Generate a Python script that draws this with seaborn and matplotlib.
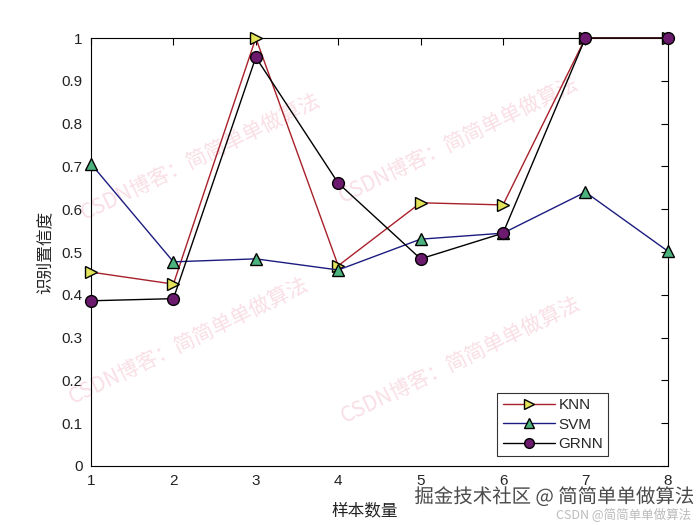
import matplotlib
matplotlib.use("Agg")
import matplotlib.pyplot as plt
import matplotlib.patheffects as pe
import seaborn as sns
import numpy as np

sample_counts = [1, 2, 3, 4, 5, 6, 7, 8]
knn = [0.453, 0.425, 1.0, 0.468, 0.615, 0.610, 1.0, 1.0]
svm = [0.706, 0.477, 0.484, 0.458, 0.530, 0.544, 0.640, 0.502]
grnn = [0.386, 0.391, 0.955, 0.661, 0.484, 0.544, 1.0, 1.0]
yticks = [0, 0.1, 0.2, 0.3, 0.4, 0.5, 0.6, 0.7, 0.8, 0.9, 1]
ytick_labels = ["0", "0.1", "0.2", "0.3", "0.4", "0.5", "0.6", "0.7", "0.8", "0.9", "1"]

sns.set_style("white")
plt.rcParams["font.family"] = ["Liberation Sans", "Noto Sans CJK SC", "DejaVu Sans"]
plt.rcParams["xtick.direction"] = "in"
plt.rcParams["ytick.direction"] = "in"

fig = plt.figure(figsize=(7, 5.25), dpi=100)
ax = fig.add_axes([0.13, 0.1124, 0.824, 0.8152])

common = dict(ax=ax, lw=1.0, markeredgecolor="black", markeredgewidth=1.0,
              sort=False, zorder=3, clip_on=False)
sns.lineplot(x=sample_counts, y=knn, color="#a8202a", marker=">", markersize=9,
             markerfacecolor="#e4e45a", label="KNN", **common)
sns.lineplot(x=sample_counts, y=svm, color="#1c1c80", marker="^", markersize=9,
             markerfacecolor="#4db37e", label="SVM", **common)
sns.lineplot(x=sample_counts, y=grnn, color="black", marker="o", markersize=8.5,
             markerfacecolor="#6b1a6e", label="GRNN", **common)

ax.set_xlim(1, 8)
ax.set_ylim(0, 1)
ax.set_xticks(sample_counts)
ax.set_xticklabels([str(v) for v in sample_counts])
ax.set_yticks(yticks)
ax.set_yticklabels(ytick_labels)
ax.tick_params(axis="both", labelsize=11, length=5, width=0.8, color="black",
               top=True, right=True, pad=6, labelcolor="#222222")
for s in ax.spines.values():
    s.set_visible(True)
    s.set_color("black")
    s.set_linewidth(0.8)
    s.set_zorder(2)

ax.set_xlabel("样本数量", fontsize=12, color="#222222",
              family=["Noto Sans CJK SC"])
ax.xaxis.set_label_coords(0.475, -0.085)
ax.set_ylabel("识别置信度", fontsize=12, color="#222222", labelpad=6,
              family=["Noto Sans CJK SC"])

leg = ax.legend(loc="lower right", bbox_to_anchor=(0.905, 0.012), frameon=True,
                fancybox=False, edgecolor="black", fontsize=11, handlelength=3.4,
                borderpad=0.35, labelspacing=0.35, handletextpad=0.25,
                borderaxespad=0.3)
leg.get_frame().set_linewidth(0.8)
for h in leg.legend_handles:
    h.set_markersize(7)

# watermarks
wm = "CSDN博客：简简单单做算法"
for (xf, yf) in [(-0.023, 0.563), (0.423, 0.603), (-0.045, 0.135), (0.428, 0.089)]:
    ax.text(xf, yf, wm, transform=ax.transAxes, rotation=26, fontsize=15,
            color="#f4c4d0", alpha=0.55, family=["Noto Sans CJK SC"],
            ha="left", va="bottom", zorder=1, clip_on=False)

fig.text(0.592, 0.053, "掘金技术社区 @ 简简单单做算法", fontsize=14, color="#4a4a4a",
         family=["Noto Sans CJK SC"], ha="left", va="center",
         path_effects=[pe.withStroke(linewidth=2.5, foreground="white")])
fig.text(0.987, 0.02, "CSDN @简简单单做算法", fontsize=9, color="#bbbbbb",
         family=["Noto Sans CJK SC"], ha="right", va="center")

fig.savefig("out.png", dpi=100, facecolor="white")
